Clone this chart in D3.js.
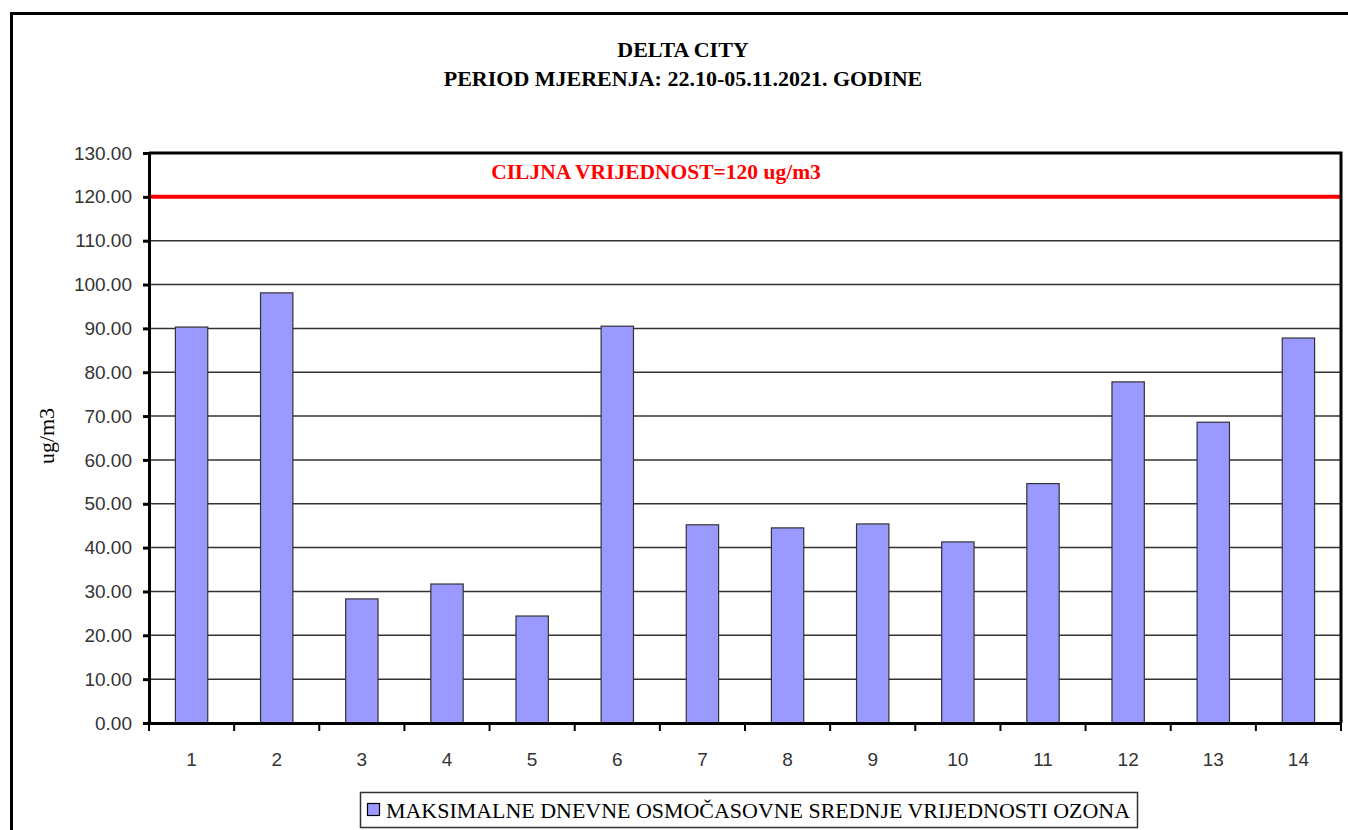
<!DOCTYPE html>
<html>
<head>
<meta charset="utf-8">
<script src="https://cdn.jsdelivr.net/npm/d3@7"></script>
<style>
  body { margin: 0; background: #fff; }
  svg { display: block; }
</style>
</head>
<body>
<div id="chart"></div>
<script>
// data
const days = ["1", "2", "3", "4", "5", "6", "7", "8", "9", "10", "11", "12", "13", "14"];
const ozone = [90.3, 98.1, 28.3, 31.7, 24.4, 90.5, 45.2, 44.5, 45.4, 41.3, 54.6, 77.8, 68.6, 87.8];
const yTicks = [0, 10, 20, 30, 40, 50, 60, 70, 80, 90, 100, 110, 120, 130];
const limitValue = [120];
const titleLines = ["DELTA CITY", "PERIOD MJERENJA: 22.10-05.11.2021. GODINE"];
const legendLabel = "MAKSIMALNE DNEVNE OSMOČASOVNE SREDNJE VRIJEDNOSTI OZONA";

const SERIF = "'Liberation Serif', 'Times New Roman', serif";
const SANS = "'Liberation Sans', Arial, sans-serif";

const W = 1348, H = 830;
const PLOT = {left: 149, right: 1341, top: 153, bottom: 723};

const svg = d3.select("#chart").append("svg")
  .attr("width", W).attr("height", H);

// outer frame
svg.append("rect")
  .attr("x", 11.5).attr("y", 13.5)
  .attr("width", W + 10).attr("height", H + 10)
  .attr("fill", "none").attr("stroke", "#000").attr("stroke-width", 3);

// title
svg.selectAll("text.title")
  .data(titleLines).enter()
  .append("text")
    .attr("class", "title")
    .attr("x", 683).attr("y", (d, i) => 57 + i * 29)
    .attr("text-anchor", "middle")
    .style("font-family", SERIF)
    .style("font-weight", "bold").style("font-size", "22px")
    .text(d => d);

// scales
const X = d3.scaleBand().domain(days)
  .range([PLOT.left, PLOT.right]).paddingInner(0.62).paddingOuter(0.31);
const Y = d3.scaleLinear().domain([0, 130]).range([PLOT.bottom, PLOT.top]);

// gridlines
svg.selectAll("line.grid")
  .data(yTicks.filter(d => d > 0 && d < 130)).enter()
  .append("line")
    .attr("x1", PLOT.left).attr("x2", PLOT.right)
    .attr("y1", d => Y(d)).attr("y2", d => Y(d))
    .attr("stroke", "#333").attr("stroke-width", 1.5);

// bars
svg.selectAll("rect.bar")
  .data(ozone).enter()
  .append("rect")
    .attr("class", "bar")
    .attr("x", (d, i) => X(days[i]))
    .attr("y", d => Y(d))
    .attr("width", X.bandwidth())
    .attr("height", d => Y(0) - Y(d))
    .attr("fill", "#9999ff").attr("stroke", "#333").attr("stroke-width", 1.2);

// limit line
svg.selectAll("line.limit")
  .data(limitValue).enter()
  .append("line")
    .attr("x1", PLOT.left).attr("x2", PLOT.right)
    .attr("y1", d => Y(d)).attr("y2", d => Y(d))
    .attr("stroke", "#ff0000").attr("stroke-width", 4);

svg.selectAll("text.limit")
  .data(limitValue).enter()
  .append("text")
    .attr("x", 656).attr("y", d => Y(d) - 18)
    .attr("text-anchor", "middle")
    .style("font-family", SERIF)
    .style("font-weight", "bold").style("font-size", "21.5px")
    .attr("fill", "#ff0000")
    .text(d => "CILJNA VRIJEDNOST=" + d + " ug/m3");

// plot border top/right
svg.append("path")
  .attr("d", `M${PLOT.left},${PLOT.top}H${PLOT.right}V${PLOT.bottom}`)
  .attr("fill", "none").attr("stroke", "#000").attr("stroke-width", 3);

// y axis
const yAxis = svg.append("g")
  .attr("transform", `translate(${PLOT.left},0)`)
  .call(d3.axisLeft(Y).tickValues(yTicks).tickFormat(d3.format(".2f")).tickSize(6).tickPadding(11));
yAxis.select(".domain").attr("stroke", "#000").attr("stroke-width", 3);
yAxis.selectAll(".tick line").attr("stroke", "#000").attr("stroke-width", 3);
yAxis.selectAll(".tick text")
  .style("font-family", SANS)
  .style("font-size", "19px").attr("fill", "#333");

// x axis
const xAxis = svg.append("g")
  .attr("transform", `translate(0,${PLOT.bottom})`)
  .call(d3.axisBottom(X).tickSize(0).tickPadding(30));
xAxis.select(".domain").attr("stroke", "#000").attr("stroke-width", 3);
xAxis.selectAll(".tick text")
  .style("font-family", SANS)
  .style("font-size", "19px").attr("fill", "#333");

// category separator ticks
const step = X.step();
svg.selectAll("line.xtick")
  .data(d3.range(days.length + 1)).enter()
  .append("line")
    .attr("x1", i => PLOT.left + i * step).attr("x2", i => PLOT.left + i * step)
    .attr("y1", PLOT.bottom).attr("y2", PLOT.bottom + 8)
    .attr("stroke", "#000").attr("stroke-width", 2);

// y axis title
svg.append("text")
  .attr("transform", "translate(54,436) rotate(-90)")
  .attr("text-anchor", "middle")
  .style("font-family", SERIF)
  .style("font-size", "22px")
  .text("ug/m3");

// legend
const lg = svg.append("g");
lg.append("rect")
  .attr("x", 360.5).attr("y", 792.5).attr("width", 777).attr("height", 35)
  .attr("fill", "#fff").attr("stroke", "#333").attr("stroke-width", 1.5);
lg.append("rect")
  .attr("x", 367.5).attr("y", 803.5).attr("width", 12).attr("height", 12)
  .attr("fill", "#9999ff").attr("stroke", "#000").attr("stroke-width", 1.2);
lg.append("text")
  .attr("x", 386).attr("y", 818)
  .style("font-family", SERIF)
  .style("font-size", "21px")
  .attr("textLength", 744).attr("lengthAdjust", "spacingAndGlyphs")
  .text(legendLabel);
</script>
</body>
</html>
